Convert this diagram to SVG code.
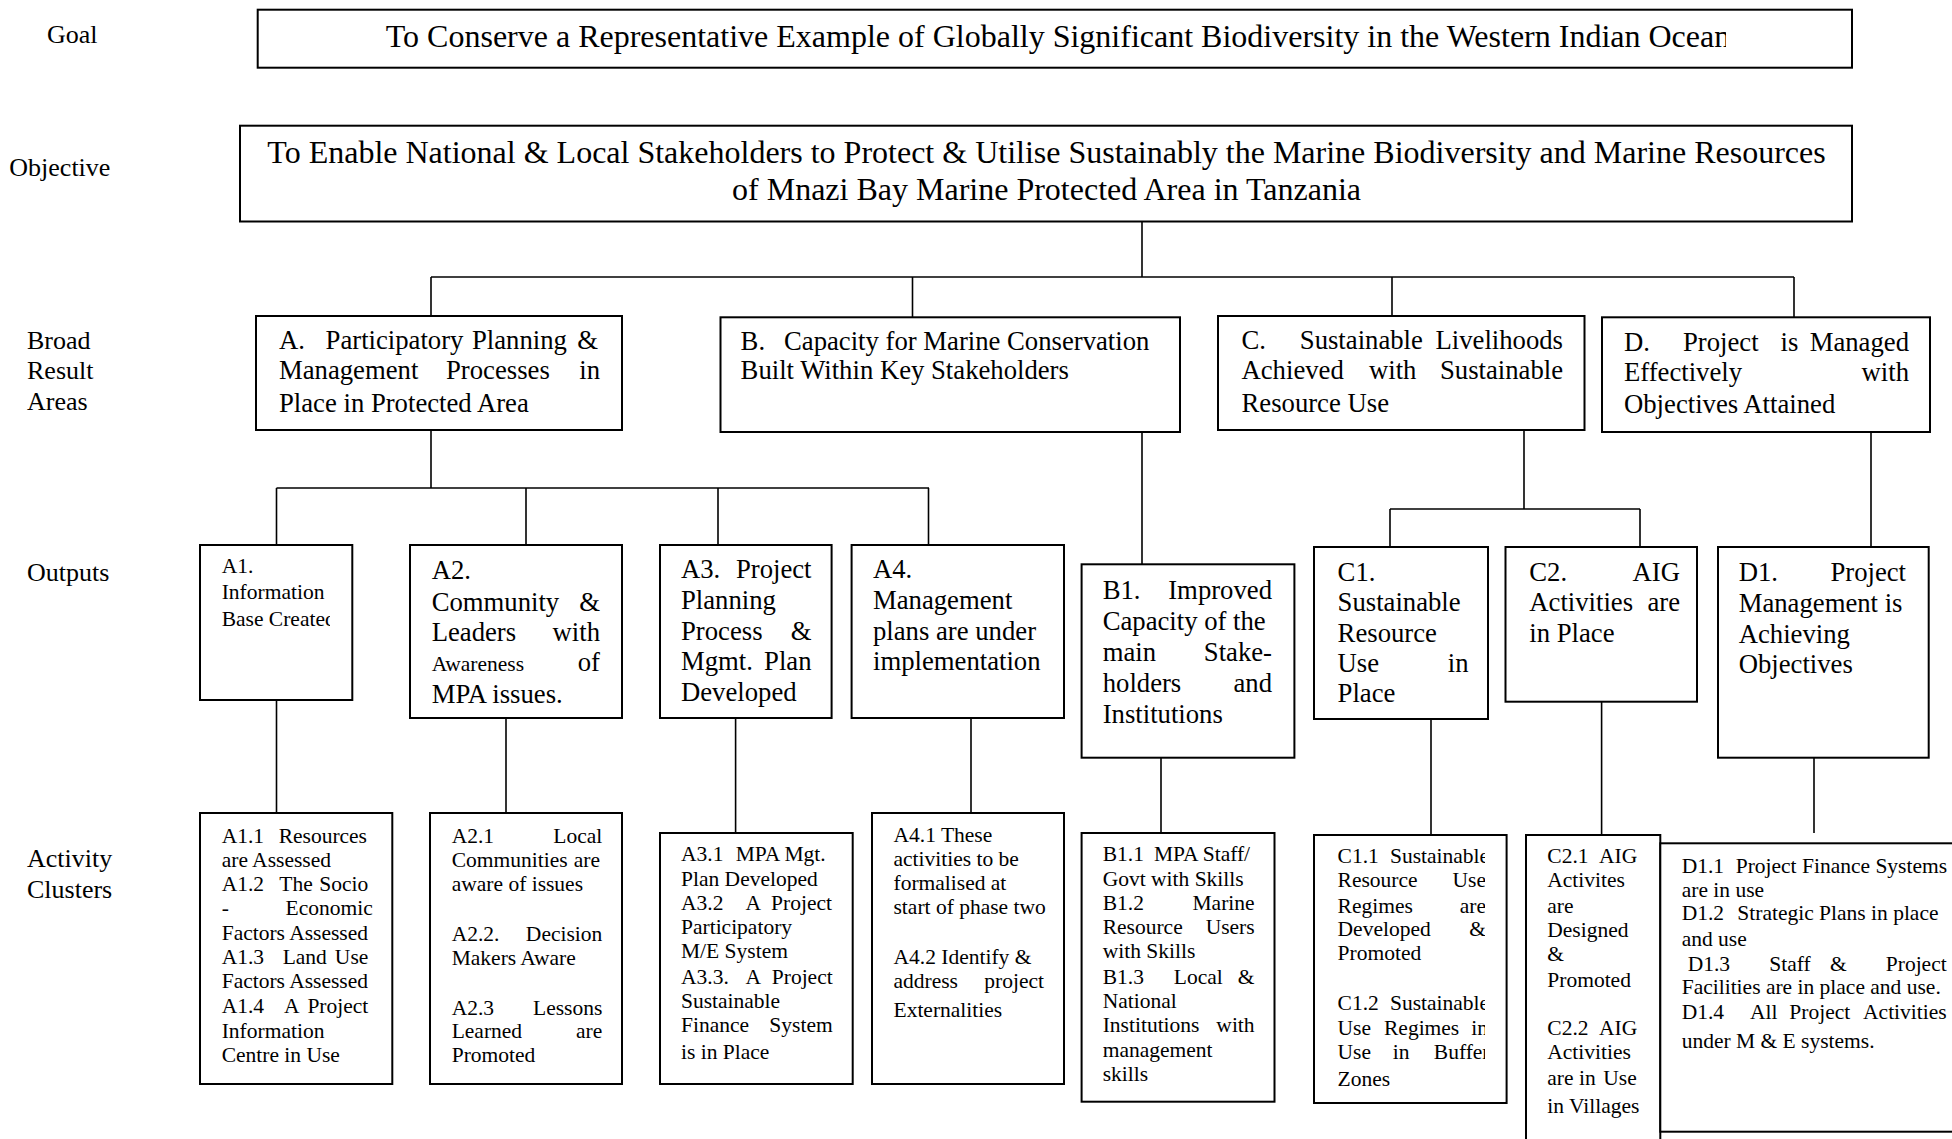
<svg xmlns="http://www.w3.org/2000/svg" width="1952" height="1139" viewBox="0 0 1952 1139">
<style>
text{font-family:"Liberation Serif","Times New Roman",serif;fill:#000}
.lbl{font-size:26px}
.big{font-size:32px}
.mid{font-size:26.7px}
.sm{font-size:21.5px}
.r{text-anchor:end}
.c{text-anchor:middle}
.box{fill:#fff;stroke:#000;stroke-width:2}
.conn line{stroke:#000;stroke-width:1.6}
</style>
<defs>
<clipPath id="clipGoal"><rect x="250" y="0" width="1476" height="80"/></clipPath>
<clipPath id="clipA1"><rect x="200" y="545" width="130" height="160"/></clipPath>
<clipPath id="clipC11"><rect x="1314" y="835" width="171" height="270"/></clipPath>
</defs>
<rect width="1952" height="1139" fill="#fff"/>

<g id="labels">
<text class="lbl" x="47" y="42.7">Goal</text>
<text class="lbl" x="9.3" y="175.7">Objective</text>
<text class="lbl" x="27" y="349">Broad</text>
<text class="lbl" x="27" y="379">Result</text>
<text class="lbl" x="27" y="410">Areas</text>
<text class="lbl" x="27" y="581">Outputs</text>
<text class="lbl" x="27" y="867">Activity</text>
<text class="lbl" x="27" y="898">Clusters</text>
</g>

<g class="conn" id="connectors">
<line x1="1142" y1="221.5" x2="1142" y2="277"/>
<line x1="431" y1="277" x2="1794" y2="277"/>
<line x1="431" y1="277" x2="431" y2="316"/>
<line x1="912.5" y1="277" x2="912.5" y2="318"/>
<line x1="1392" y1="277" x2="1392" y2="316"/>
<line x1="1794" y1="277" x2="1794" y2="317.3"/>
<line x1="431" y1="430" x2="431" y2="488"/>
<line x1="276.5" y1="488" x2="929" y2="488"/>
<line x1="276.5" y1="488" x2="276.5" y2="545"/>
<line x1="526" y1="488" x2="526" y2="545"/>
<line x1="718" y1="488" x2="718" y2="545"/>
<line x1="928.5" y1="488" x2="928.5" y2="545"/>
<line x1="1142" y1="432" x2="1142" y2="564.3"/>
<line x1="1524" y1="430" x2="1524" y2="509"/>
<line x1="1390" y1="509" x2="1640" y2="509"/>
<line x1="1390" y1="509" x2="1390" y2="547"/>
<line x1="1640" y1="509" x2="1640" y2="547"/>
<line x1="1871" y1="432" x2="1871" y2="547"/>
<line x1="276.5" y1="700" x2="276.5" y2="813"/>
<line x1="506" y1="718" x2="506" y2="813"/>
<line x1="735.6" y1="718" x2="735.6" y2="833"/>
<line x1="971" y1="718" x2="971" y2="813"/>
<line x1="1161" y1="757.7" x2="1161" y2="833"/>
<line x1="1431" y1="719" x2="1431" y2="835"/>
<line x1="1601.6" y1="701.7" x2="1601.6" y2="835"/>
<line x1="1814" y1="757.7" x2="1814" y2="833"/>
</g>

<g id="goal">
<rect class="box" x="257.7" y="9.7" width="1594.3" height="58"/>
<text class="big c" x="1058" y="46.7" clip-path="url(#clipGoal)">To Conserve a Representative Example of Globally Significant Biodiversity in the Western Indian Ocean</text>
</g>

<g id="objective">
<rect class="box" x="240" y="125.7" width="1612" height="95.8"/>
<text class="big c" x="1046.5" y="163">To Enable National &amp; Local Stakeholders to Protect &amp; Utilise Sustainably the Marine Biodiversity and Marine Resources</text>
<text class="big c" x="1046.5" y="199.5">of Mnazi Bay Marine Protected Area in Tanzania</text>
</g>

<g id="A">
<rect class="box" x="256" y="316" width="366" height="114"/>
<text class="mid" x="279" y="348.5">A.</text>
<text class="mid" x="325.6" y="348.5">Participatory</text>
<text class="mid" x="472" y="348.5">Planning</text>
<text class="mid r" x="598" y="348.5">&amp;</text>
<text class="mid" x="279" y="379">Management</text>
<text class="mid" x="446" y="379">Processes</text>
<text class="mid r" x="600" y="379">in</text>
<text class="mid" x="279" y="412">Place in Protected Area</text>
</g>

<g id="B">
<rect class="box" x="720.5" y="317.3" width="459.5" height="114.7"/>
<text class="mid" x="740.6" y="350">B.</text>
<text class="mid" x="784" y="350">Capacity for Marine Conservation</text>
<text class="mid" x="740.6" y="379">Built Within Key Stakeholders</text>
</g>

<g id="C">
<rect class="box" x="1218" y="316" width="366.5" height="114"/>
<text class="mid" x="1241.5" y="349">C.</text>
<text class="mid" x="1299.8" y="349">Sustainable</text>
<text class="mid r" x="1563" y="349">Livelihoods</text>
<text class="mid" x="1241.5" y="379">Achieved</text>
<text class="mid" x="1369" y="379">with</text>
<text class="mid r" x="1563" y="379">Sustainable</text>
<text class="mid" x="1241.5" y="412">Resource Use</text>
</g>

<g id="D">
<rect class="box" x="1602" y="317.3" width="328" height="114.7"/>
<text class="mid" x="1624" y="350.7">D.</text>
<text class="mid" x="1683" y="350.7">Project</text>
<text class="mid" x="1780.6" y="350.7">is</text>
<text class="mid r" x="1909" y="350.7">Managed</text>
<text class="mid" x="1624" y="380.7">Effectively</text>
<text class="mid r" x="1909" y="380.7">with</text>
<text class="mid" x="1624" y="413.3">Objectives Attained</text>
</g>

<g id="A1">
<rect class="box" x="200" y="545" width="152.3" height="155"/>
<g clip-path="url(#clipA1)">
<text class="sm" x="221.7" y="573">A1.</text>
<text class="sm" x="221.7" y="599">Information</text>
<text class="sm" x="221.7" y="626.4">Base Created</text>
</g>
</g>

<g id="A2">
<rect class="box" x="410" y="545" width="212" height="173"/>
<text class="mid" x="431.7" y="578.6">A2.</text>
<text class="mid" x="431.7" y="611">Community</text>
<text class="mid r" x="600" y="611">&amp;</text>
<text class="mid" x="431.7" y="641">Leaders</text>
<text class="mid r" x="600" y="641">with</text>
<text class="sm" x="431.7" y="671.4">Awareness</text>
<text class="mid r" x="600" y="671.4">of</text>
<text class="mid" x="431.7" y="702.5">MPA issues.</text>
</g>

<g id="A3">
<rect class="box" x="660" y="545" width="171.6" height="173"/>
<text class="mid" x="681" y="578.3">A3.</text>
<text class="mid r" x="811.5" y="578.3">Project</text>
<text class="mid" x="681" y="609">Planning</text>
<text class="mid" x="681" y="640">Process</text>
<text class="mid r" x="811.5" y="640">&amp;</text>
<text class="mid" x="681" y="670">Mgmt.</text>
<text class="mid r" x="811.5" y="670">Plan</text>
<text class="mid" x="681" y="700.7">Developed</text>
</g>

<g id="A4">
<rect class="box" x="851.6" y="545" width="212.4" height="173"/>
<text class="mid" x="873" y="578.3">A4.</text>
<text class="mid" x="873" y="609">Management</text>
<text class="mid" x="873" y="640">plans are under</text>
<text class="mid" x="873" y="670">implementation</text>
</g>

<g id="B1">
<rect class="box" x="1081.6" y="564.3" width="212.8" height="193.4"/>
<text class="mid" x="1102.7" y="599">B1.</text>
<text class="mid r" x="1272" y="599">Improved</text>
<text class="mid" x="1102.7" y="630">Capacity of the</text>
<text class="mid" x="1102.7" y="661">main</text>
<text class="mid r" x="1272" y="661">Stake-</text>
<text class="mid" x="1102.7" y="692">holders</text>
<text class="mid r" x="1272" y="692">and</text>
<text class="mid" x="1102.7" y="723">Institutions</text>
</g>

<g id="C1">
<rect class="box" x="1314" y="547" width="174" height="172"/>
<text class="mid" x="1337.6" y="581">C1.</text>
<text class="mid" x="1337.6" y="611">Sustainable</text>
<text class="mid" x="1337.6" y="642">Resource</text>
<text class="mid" x="1337.6" y="672">Use</text>
<text class="mid r" x="1468.5" y="672">in</text>
<text class="mid" x="1337.6" y="702">Place</text>
</g>

<g id="C2">
<rect class="box" x="1505.5" y="547" width="191.5" height="154.7"/>
<text class="mid" x="1529.3" y="581">C2.</text>
<text class="mid r" x="1680" y="581">AIG</text>
<text class="mid" x="1529.3" y="611">Activities</text>
<text class="mid r" x="1680" y="611">are</text>
<text class="mid" x="1529.3" y="642">in Place</text>
</g>

<g id="D1">
<rect class="box" x="1718" y="547" width="210.7" height="210.7"/>
<text class="mid" x="1738.7" y="581">D1.</text>
<text class="mid r" x="1906" y="581">Project</text>
<text class="mid" x="1738.7" y="611.5">Management is</text>
<text class="mid" x="1738.7" y="642.5">Achieving</text>
<text class="mid" x="1738.7" y="673">Objectives</text>
</g>

<g id="A1.1">
<rect class="box" x="200" y="813" width="192.3" height="271"/>
<text class="sm" x="221.7" y="843">A1.1</text>
<text class="sm r" x="367" y="843">Resources</text>
<text class="sm" x="221.7" y="867">are Assessed</text>
<text class="sm" x="221.7" y="891">A1.2</text>
<text class="sm" x="279.3" y="891">The</text>
<text class="sm r" x="368.3" y="891">Socio</text>
<text class="sm" x="221.7" y="915">-</text>
<text class="sm r" x="372.7" y="915">Economic</text>
<text class="sm" x="221.7" y="940">Factors Assessed</text>
<text class="sm" x="221.7" y="964">A1.3</text>
<text class="sm" x="282.7" y="964">Land</text>
<text class="sm r" x="368.3" y="964">Use</text>
<text class="sm" x="221.7" y="988">Factors Assessed</text>
<text class="sm" x="221.7" y="1013">A1.4</text>
<text class="sm" x="284" y="1013">A</text>
<text class="sm r" x="368.3" y="1013">Project</text>
<text class="sm" x="221.7" y="1038">Information</text>
<text class="sm" x="221.7" y="1062">Centre in Use</text>
</g>

<g id="A2.1">
<rect class="box" x="430" y="813" width="192" height="271"/>
<text class="sm" x="451.7" y="843">A2.1</text>
<text class="sm r" x="602.3" y="843">Local</text>
<text class="sm" x="451.7" y="867">Communities</text>
<text class="sm r" x="600" y="867">are</text>
<text class="sm" x="451.7" y="891">aware of issues</text>
<text class="sm" x="451.7" y="941">A2.2.</text>
<text class="sm r" x="602.3" y="941">Decision</text>
<text class="sm" x="451.7" y="965">Makers Aware</text>
<text class="sm" x="451.7" y="1015">A2.3</text>
<text class="sm r" x="602.3" y="1015">Lessons</text>
<text class="sm" x="451.7" y="1038">Learned</text>
<text class="sm r" x="602.3" y="1038">are</text>
<text class="sm" x="451.7" y="1062">Promoted</text>
</g>

<g id="A3.1">
<rect class="box" x="660" y="833" width="192.7" height="251"/>
<text class="sm" x="681" y="861">A3.1</text>
<text class="sm" x="735.7" y="861">MPA Mgt.</text>
<text class="sm" x="681" y="886">Plan Developed</text>
<text class="sm" x="681" y="910">A3.2</text>
<text class="sm" x="745.5" y="910">A</text>
<text class="sm r" x="832" y="910">Project</text>
<text class="sm" x="681" y="934">Participatory</text>
<text class="sm" x="681" y="958">M/E System</text>
<text class="sm" x="681" y="984">A3.3.</text>
<text class="sm" x="745.5" y="984">A</text>
<text class="sm r" x="832.7" y="984">Project</text>
<text class="sm" x="681" y="1008">Sustainable</text>
<text class="sm" x="681" y="1032">Finance</text>
<text class="sm r" x="832.7" y="1032">System</text>
<text class="sm" x="681" y="1059">is in Place</text>
</g>

<g id="A4.1">
<rect class="box" x="872" y="813" width="192" height="271"/>
<text class="sm" x="893.5" y="842">A4.1 These</text>
<text class="sm" x="893.5" y="866">activities to be</text>
<text class="sm" x="893.5" y="890">formalised at</text>
<text class="sm" x="893.5" y="914">start of phase two</text>
<text class="sm" x="893.5" y="963.5">A4.2 Identify &amp;</text>
<text class="sm" x="893.5" y="988">address</text>
<text class="sm r" x="1044" y="988">project</text>
<text class="sm" x="893.5" y="1017">Externalities</text>
</g>

<g id="B1.1">
<rect class="box" x="1081.6" y="833" width="192.9" height="268.7"/>
<text class="sm" x="1102.7" y="861">B1.1</text>
<text class="sm" x="1153.9" y="861">MPA Staff/</text>
<text class="sm" x="1102.7" y="885.5">Govt with Skills</text>
<text class="sm" x="1102.7" y="910">B1.2</text>
<text class="sm r" x="1254.6" y="910">Marine</text>
<text class="sm" x="1102.7" y="933.5">Resource</text>
<text class="sm r" x="1254.6" y="933.5">Users</text>
<text class="sm" x="1102.7" y="958">with Skills</text>
<text class="sm" x="1102.7" y="983.5">B1.3</text>
<text class="sm" x="1173.8" y="983.5">Local</text>
<text class="sm r" x="1254.6" y="983.5">&amp;</text>
<text class="sm" x="1102.7" y="1008">National</text>
<text class="sm" x="1102.7" y="1032">Institutions</text>
<text class="sm r" x="1254.6" y="1032">with</text>
<text class="sm" x="1102.7" y="1057">management</text>
<text class="sm" x="1102.7" y="1081">skills</text>
</g>

<g id="C1.1">
<rect class="box" x="1314" y="835" width="192.6" height="268"/>
<g clip-path="url(#clipC11)">
<text class="sm" x="1337.6" y="863">C1.1</text>
<text class="sm" x="1390" y="863">Sustainable</text>
<text class="sm" x="1337.6" y="887">Resource</text>
<text class="sm r" x="1486" y="887">Use</text>
<text class="sm" x="1337.6" y="912.5">Regimes</text>
<text class="sm r" x="1486" y="912.5">are</text>
<text class="sm" x="1337.6" y="936">Developed</text>
<text class="sm r" x="1486" y="936">&amp;</text>
<text class="sm" x="1337.6" y="960">Promoted</text>
<text class="sm" x="1337.6" y="1010">C1.2</text>
<text class="sm" x="1390" y="1010">Sustainable</text>
<text class="sm" x="1337.6" y="1035">Use</text>
<text class="sm" x="1384" y="1035">Regimes</text>
<text class="sm" x="1471.3" y="1035">in</text>
<text class="sm" x="1337.6" y="1059">Use</text>
<text class="sm" x="1392.8" y="1059">in</text>
<text class="sm" x="1433.8" y="1059">Buffer</text>
<text class="sm" x="1337.6" y="1086">Zones</text>
</g>
</g>

<g id="C2.1">
<rect class="box" x="1526" y="835" width="134.3" height="310"/>
<text class="sm" x="1547.3" y="863.3">C2.1</text>
<text class="sm r" x="1637.3" y="863.3">AIG</text>
<text class="sm" x="1547.3" y="887.3">Activites</text>
<text class="sm" x="1547.3" y="913.3">are</text>
<text class="sm" x="1547.3" y="936.7">Designed</text>
<text class="sm" x="1547.3" y="960.7">&amp;</text>
<text class="sm" x="1547.3" y="986.7">Promoted</text>
<text class="sm" x="1547.3" y="1035">C2.2</text>
<text class="sm r" x="1637.3" y="1035">AIG</text>
<text class="sm" x="1547.3" y="1059">Activities</text>
<text class="sm" x="1547.3" y="1085">are in</text>
<text class="sm r" x="1636.7" y="1085">Use</text>
<text class="sm" x="1547.3" y="1112.7">in Villages</text>
</g>

<g id="D1.1">
<rect class="box" x="1660.3" y="843.3" width="310" height="288.4"/>
<text class="sm" x="1681.7" y="872.7">D1.1</text>
<text class="sm" x="1735.7" y="872.7">Project Finance Systems</text>
<text class="sm" x="1681.7" y="896.7">are in use</text>
<text class="sm" x="1681.7" y="920">D1.2</text>
<text class="sm" x="1737.3" y="920">Strategic Plans in place</text>
<text class="sm" x="1681.7" y="946">and use</text>
<text class="sm" x="1687.7" y="970.7">D1.3</text>
<text class="sm" x="1769.3" y="970.7">Staff</text>
<text class="sm" x="1830" y="970.7">&amp;</text>
<text class="sm r" x="1946.7" y="970.7">Project</text>
<text class="sm" x="1681.7" y="994.3">Facilities are in place and use.</text>
<text class="sm" x="1681.7" y="1019.3">D1.4</text>
<text class="sm" x="1750" y="1019.3">All</text>
<text class="sm" x="1789.3" y="1019.3">Project</text>
<text class="sm r" x="1946.7" y="1019.3">Activities</text>
<text class="sm" x="1681.7" y="1048.3">under M &amp; E systems.</text>
</g>
</svg>
